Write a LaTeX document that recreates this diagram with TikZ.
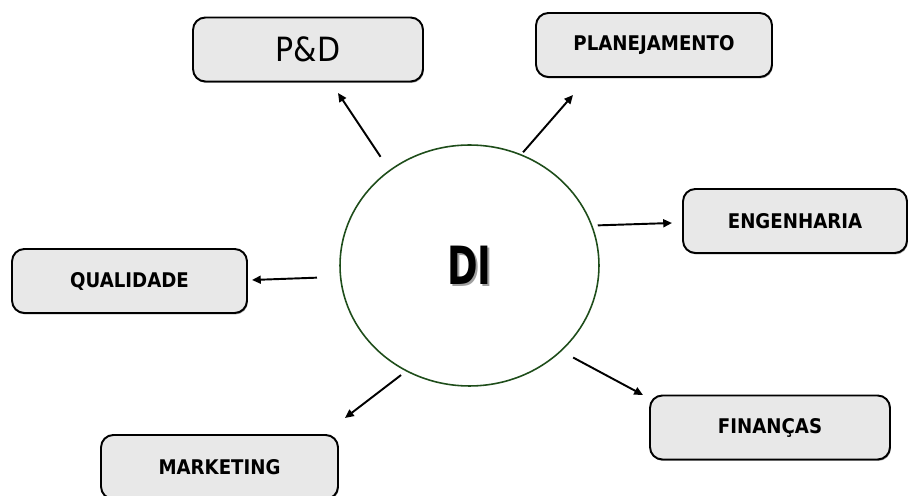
\documentclass[tikz,border=0pt]{standalone}
\usepackage{fontspec}
\setmainfont{DejaVu Sans}[FakeStretch=0.9]
\newfontfamily\titlefont{DejaVu Sans}[FakeStretch=0.7]
\usetikzlibrary{arrows.meta,shapes.geometric,shadows}
\definecolor{boxfill}{HTML}{E8E8E8}
\definecolor{ringline}{HTML}{1E4D1A}
\definecolor{shade}{HTML}{A0A0A0}

\begin{document}
\begin{tikzpicture}[x=0.02cm, y=-0.02cm,
    area/.style={draw=black, line width=1.1pt, fill=boxfill, rounded corners=7pt,
      minimum width=4.72cm, minimum height=1.28cm, inner sep=0pt,
      font=\fontsize{11.5}{14}\selectfont\bfseries,
      drop shadow={shadow xshift=0.5pt, shadow yshift=-0.8pt, fill=shade, opacity=1}},
    link/.style={line width=1.1pt, -{Triangle[length=5pt,width=4.5pt]}}]
  \useasboundingbox (0,0) rectangle (910,496);

  % central unit
  \node[draw=ringline, line width=0.9pt, fill=white, ellipse,
    minimum width=5.18cm, minimum height=4.82cm] (di) at (469.5,265.5) {};
  \node[text=shade] (di-shadow) at (471.5,267.5) {\titlefont\fontsize{30}{36}\selectfont\bfseries DI};
  \node (di-label) at (469.5,265.5) {\titlefont\fontsize{30}{36}\selectfont\bfseries DI};

  % departments
  \node[area, minimum width=4.6cm] (pd) at (308,49.5) {\mdseries\fontsize{19}{22}\selectfont P\&D};
  \node[area] (plan) at (654,45) {PLANEJAMENTO};
  \node[area, minimum width=4.48cm] (eng) at (795,221) {ENGENHARIA};
  \node[area, minimum width=4.7cm] (qual) at (129.5,281) {QUALIDADE};
  \node[area, minimum width=4.8cm] (fin) at (770,427.5) {FINANÇAS};
  \node[area, minimum width=4.74cm] (mkt) at (219.5,467) {MARKETING};

  % arrow tips, just short of each box
  \coordinate (pd-tip) at (338,93);
  \coordinate (plan-tip) at (573,95);
  \coordinate (eng-tip) at (672,223);
  \coordinate (qual-tip) at (252,280);
  \coordinate (fin-tip) at (643,395);
  \coordinate (mkt-tip) at (345,418);

  \draw[link, shorten <=9pt] (di.130) -- (pd-tip);
  \draw[link, shorten <=1.5pt] (di.65) -- (plan-tip);
  \draw[link, shorten <=3pt] (di.18) -- (eng-tip);
  \draw[link, shorten <=13pt] (di.185.5) -- (qual-tip);
  \draw[link, shorten <=7.5pt] (di.-43.5) -- (fin-tip);
  \draw[link, shorten <=3.5pt] (di.-121) -- (mkt-tip);
\end{tikzpicture}
\end{document}
